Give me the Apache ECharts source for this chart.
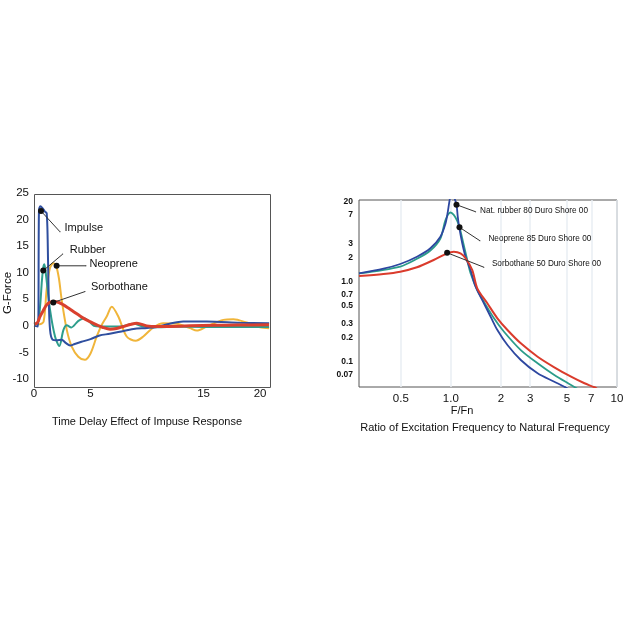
<!DOCTYPE html>
<html><head><meta charset="utf-8">
<script src="https://cdn.jsdelivr.net/npm/echarts@6/dist/echarts.min.js"></script>
<style>html,body{margin:0;padding:0;background:#fff}#c{width:627px;height:627px}</style>
</head><body><div id="c"></div>
<script>
// ---------- Left chart: time delay effect of impulse response ----------
const impulseT = [0, 0.35, 0.44, 0.56, 0.77, 0.97, 1.12, 1.21, 1.30, 1.42, 1.65, 2.0, 2.45, 2.8, 3.2, 3.6, 4.2, 5.0, 5.8, 6.7, 7.6, 8.8, 10.0, 10.9, 12.0, 13.2, 15.3, 18.2, 20.8];
const impulseG = [0, -0.1, 21.8, 22.5, 22.1, 21.5, 21.2, 16.2, 5.5, -0.75, -2.6, -2.7, -2.6, -3.2, -3.7, -3.4, -3.0, -2.5, -1.8, -1.5, -1.1, -0.6, -0.4, -0.2, 0.4, 0.8, 0.8, 0.6, 0.5];
const rubberT = [0, 0.35, 0.55, 0.7, 0.82, 0.92, 1.06, 1.42, 1.86, 2.24, 2.6, 2.9, 3.3, 3.9, 4.45, 4.9, 5.3, 5.84, 7.6, 8.8, 9.7, 10.9, 12.6, 15, 18, 20.8];
const rubberG = [0.3, 0.5, 4, 8.5, 11, 11.6, 9.6, 3.0, -2.0, -3.8, -0.8, 0.1, -0.3, 0.9, 1.45, 0.8, 0, -0.13, -0.13, 0.38, -0.13, -0.25, -0.15, -0.2, -0.2, -0.2];
const neopreneT = [0, 0.5, 0.85, 1.12, 1.4, 1.71, 1.95, 2.2, 2.45, 2.9, 3.34, 3.92, 4.5, 5.0, 5.55, 6.0, 6.43, 6.88, 7.46, 8.2, 9.0, 9.67, 10.56, 11.44, 12.63, 13.8, 14.4, 15.28, 16.75, 17.64, 18.82, 20.0, 20.8];
const neopreneG = [0.3, 0.3, 0.8, 6.8, 10.8, 11.8, 11.35, 9.0, 4.9, -0.75, -3.9, -5.8, -6.4, -5.2, -2.0, 0.2, 1.75, 3.6, 1.75, -2.0, -2.8, -2.0, -0.3, 0.5, 0.38, -0.43, -0.88, -0.13, 1.13, 1.26, 0.62, -0.25, -0.45];
const sorboT = [0, 0.3, 0.53, 0.8, 1.12, 1.45, 1.8, 2.2, 2.6, 3.0, 3.48, 4.36, 5.0, 5.55, 6.1, 6.73, 7.3, 7.9, 8.5, 9.1, 9.97, 10.86, 12.0, 13.8, 16.0, 18.0, 20.8];
const sorboG = [0.3, 0.6, 1.75, 2.8, 3.95, 4.45, 4.57, 4.4, 3.95, 3.4, 2.7, 1.45, 0.75, 0.19, -0.3, -0.62, -0.5, -0.13, 0.25, 0.5, 0, -0.13, -0.1, 0, 0.1, 0.15, 0.19];
const leftXTicks = [0, 5, 15, 20];
const leftYTicks = [-10, -5, 0, 5, 10, 15, 20, 25];
const leftNotes = [
  {name: 'Impulse',    dot: [0.62, 21.6], end: [2.3, 17.7]},
  {name: 'Rubber',     dot: [0.82, 10.4], end: [2.54, 13.5]},
  {name: 'Neoprene',   dot: [2.0, 11.3],  end: [4.6, 11.3]},
  {name: 'Sorbothane', dot: [1.71, 4.4],  end: [4.51, 6.45]}
];

// ---------- Right chart: transmissibility vs F/Fn ----------
const natRubberF = [0.28, 0.393, 0.496, 0.625, 0.753, 0.865, 0.927, 0.955, 0.985, 1.01, 1.045, 1.081, 1.10, 1.12, 1.171, 1.226, 1.314, 1.409, 1.581, 1.736, 1.906, 2.191, 2.636, 3.327, 4.194, 4.82, 5.1];
const natRubberT = [1.28, 1.466, 1.679, 2.07, 2.64, 3.68, 5.3, 7.2, 10.8, 13, 11.5, 9.25, 6.6, 5.0, 3.05, 2.07, 1.41, 0.873, 0.542, 0.368, 0.251, 0.163, 0.106, 0.0722, 0.0567, 0.0491, 0.046];
const neopreneF = [0.28, 0.496, 0.625, 0.753, 0.865, 0.927, 0.994, 1.041, 1.092, 1.135, 1.184, 1.243, 1.314, 1.443, 1.581, 1.818, 2.089, 2.636, 3.327, 4.194, 5.29, 5.8];
const neopreneTr = [1.28, 1.56, 1.95, 2.48, 3.5, 5.9, 7.4, 6.9, 5.8, 4.6, 3.16, 2.05, 1.285, 0.794, 0.567, 0.352, 0.239, 0.141, 0.0964, 0.0688, 0.0516, 0.046];
const sorbothaneF = [0.28, 0.393, 0.496, 0.625, 0.788, 0.95, 1.041, 1.143, 1.226, 1.346, 1.442, 1.658, 1.906, 2.191, 2.636, 3.327, 4.194, 5.29, 6.37, 7.32, 7.6];
const sorbothaneTr = [1.189, 1.259, 1.345, 1.527, 1.884, 2.28, 2.39, 2.28, 1.98, 1.41, 0.834, 0.542, 0.352, 0.251, 0.171, 0.1165, 0.0859, 0.0655, 0.0542, 0.0483, 0.046];
const rightXTicks = [0.5, 1, 2, 3, 5, 7, 10];
const rightXLabels = ['0.5', '1.0', '2', '3', '5', '7', '10'];
// the reference prints "20" at the top tick of its scale
const rightYTicks = [0.07, 0.1, 0.2, 0.3, 0.5, 0.7, 1, 2, 3, 7, 10];
const rightYLabels = ['0.07', '0.1', '0.2', '0.3', '0.5', '0.7', '1.0', '2', '3', '7', '20'];
const rightNotes = [
  {name: 'Nat. rubber 80 Duro Shore 00', dot: [1.081, 9.25], end: [1.409, 7.56], dist: 4, dy: -1},
  {name: 'Neoprene 85 Duro Shore 00',    dot: [1.127, 4.83], end: [1.496, 3.28], dist: 8, dy: -2},
  {name: 'Sorbothane 50 Duro Shore 00',  dot: [0.95, 2.32],  end: [1.581, 1.53], dist: 7.5, dy: -3}
];

const FONT = 'Liberation Sans, Arial, sans-serif';
const zip = (xs, ys) => xs.map((x, i) => [x, ys[i]]);
const pick = (ticks, labels) => v => {
  for (let i = 0; i < ticks.length; i++) if (Math.abs(v - ticks[i]) <= 1e-6 * Math.max(1, ticks[i])) return labels[i];
  return '';
};

function curve(name, xs, ys, color, width, xi, z) {
  return {type: 'line', name, data: zip(xs, ys), xAxisIndex: xi, yAxisIndex: xi,
    showSymbol: false, smooth: 0.3, z, silent: true,
    lineStyle: {color, width}, itemStyle: {color}};
}
function note(n, xi, fontSize, dist, dy) {
  return {type: 'line', xAxisIndex: xi, yAxisIndex: xi, z: 10, silent: true,
    lineStyle: {color: '#333', width: 1},
    data: [
      {value: n.dot, symbol: 'circle', symbolSize: 6, itemStyle: {color: '#111'}},
      {value: n.end, symbol: 'circle', symbolSize: 1, itemStyle: {color: '#333'},
       label: {show: true, position: 'right', distance: dist, offset: [0, dy], formatter: n.name,
               fontFamily: FONT, fontSize, color: '#111'}}
    ]};
}

const chart = echarts.init(document.getElementById('c'));
chart.setOption({
  animation: false,
  backgroundColor: '#fff',
  grid: [
    {left: 34, top: 193, width: 236, height: 186, show: false},
    {left: 359, top: 200, width: 258, height: 187, show: true, borderColor: '#555', borderWidth: 1, backgroundColor: 'transparent'}
  ],
  xAxis: [
    {type: 'value', gridIndex: 0, min: 0, max: 20.88, interval: 5,
     axisLine: {show: false}, axisTick: {show: false}, splitLine: {show: false},
     axisLabel: {margin: 9, fontFamily: FONT, fontSize: 11.5, color: '#111',
       formatter: v => leftXTicks.includes(v) ? String(v) : ''}},
    {type: 'log', gridIndex: 1, logBase: 10, min: 0.28, max: 10,
     axisLine: {show: false},
     axisTick: {show: false, customValues: rightXTicks},
     splitLine: {show: true, lineStyle: {color: '#e8eef3', width: 1.5}},
     axisLabel: {customValues: rightXTicks, margin: 6, fontFamily: FONT, fontSize: 11.5, color: '#111',
       formatter: pick(rightXTicks, rightXLabels)}}
  ],
  yAxis: [
    {type: 'value', gridIndex: 0, min: -10, max: 25, interval: 5,
     axisLine: {show: false}, axisTick: {show: false}, splitLine: {show: false},
     axisLabel: {margin: 5, fontFamily: FONT, fontSize: 11.5, color: '#111',
       formatter: v => leftYTicks.includes(v) ? String(v) : ''}},
    {type: 'log', gridIndex: 1, logBase: 10, min: 0.0487, max: 10.6,
     axisLine: {show: false},
     axisTick: {show: false, customValues: rightYTicks},
     splitLine: {show: false},
     axisLabel: {customValues: rightYTicks, margin: 6, fontFamily: FONT, fontSize: 8.5, fontWeight: 'bold', color: '#111',
       formatter: pick(rightYTicks, rightYLabels)}}
  ],
  graphic: [
    {type: 'rect', shape: {x: 34.5, y: 194.5, width: 236, height: 193}, style: {fill: 'none', stroke: '#555', lineWidth: 1}, z: 20, silent: true},
    {type: 'text', x: 8, y: 293, rotation: Math.PI / 2,
     style: {text: 'G-Force', font: '11.5px ' + FONT, fill: '#111', textAlign: 'center', textVerticalAlign: 'middle', align: 'center', verticalAlign: 'middle'}},
    {type: 'text', x: 147, y: 422,
     style: {text: 'Time Delay Effect of Impuse Response', font: '11px ' + FONT, fill: '#111', textAlign: 'center', textVerticalAlign: 'middle', align: 'center', verticalAlign: 'middle'}},
    {type: 'text', x: 462, y: 411,
     style: {text: 'F/Fn', font: '11px ' + FONT, fill: '#111', textAlign: 'center', textVerticalAlign: 'middle', align: 'center', verticalAlign: 'middle'}},
    {type: 'text', x: 485, y: 428,
     style: {text: 'Ratio of Excitation Frequency to Natural Frequency', font: '11px ' + FONT, fill: '#111', textAlign: 'center', textVerticalAlign: 'middle', align: 'center', verticalAlign: 'middle'}}
  ],
  series: [
    curve('Neoprene', neopreneT, neopreneG, '#f0b53a', 2, 0, 2),
    curve('Rubber', rubberT, rubberG, '#2e9e8c', 2, 0, 3),
    curve('Impulse', impulseT, impulseG, '#2f4f9f', 2, 0, 4),
    curve('Sorbothane', sorboT, sorboG, '#d9402e', 3, 0, 5),
    note(leftNotes[0], 0, 11, 4, -4),
    note(leftNotes[1], 0, 11, 6.5, -4.5),
    note(leftNotes[2], 0, 11, 3, -2),
    note(leftNotes[3], 0, 11, 5.5, -4.4),
    curve('Neoprene 85 Duro Shore 00', neopreneF, neopreneTr, '#2b9c8a', 1.8, 1, 2),
    curve('Nat. rubber 80 Duro Shore 00', natRubberF, natRubberT, '#2d47a0', 1.8, 1, 3),
    curve('Sorbothane 50 Duro Shore 00', sorbothaneF, sorbothaneTr, '#da3b2c', 2, 1, 4),
    ...rightNotes.map(n => note(n, 1, 8.2, n.dist, n.dy))
  ]
});
</script></body></html>
